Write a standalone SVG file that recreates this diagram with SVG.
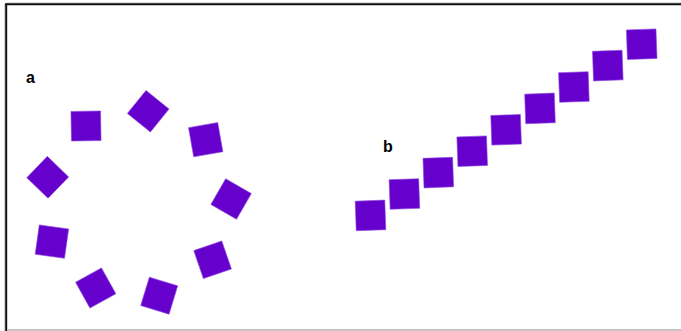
<svg xmlns="http://www.w3.org/2000/svg" width="681" height="331" viewBox="0 0 681 331">
<defs>
<style>
.sq{fill:#6600cc;stroke:#8a4be0;stroke-width:0.6}
.lbl{font-family:"Liberation Sans",Arial,sans-serif;font-weight:bold;font-size:16px;fill:#000}
</style>
<rect id="s" class="sq" x="-14.8" y="-14.8" width="29.6" height="29.6"/>
</defs>
<rect x="0" y="0" width="681" height="331" fill="#fff"/>
<g id="frame">
<line x1="4.5" y1="4" x2="4.5" y2="331" stroke="#cfcfcf" stroke-width="1"/>
<line x1="6" y1="3" x2="681" y2="3" stroke="#bbb" stroke-width="1"/>
<line x1="5" y1="4.2" x2="681" y2="4.2" stroke="#111" stroke-width="2"/>
<line x1="6.2" y1="4" x2="6.2" y2="331" stroke="#111" stroke-width="2"/>
<line x1="7" y1="330" x2="681" y2="330" stroke="#c4c4c4" stroke-width="2"/>
</g>
<text id="label-a" class="lbl" x="26" y="83">a</text>
<text id="label-b" class="lbl" x="383" y="152">b</text>
<g id="ring">
<g id="a1"><use href="#s" transform="translate(86,126) rotate(-1)"/></g>
<g id="a2"><use href="#s" transform="translate(148.2,111.2) rotate(39)"/></g>
<g id="a3"><use href="#s" transform="translate(205.7,139.7) rotate(-10)"/></g>
<g id="a4"><use href="#s" transform="translate(231.1,199) rotate(30)"/></g>
<g id="a5"><use href="#s" transform="translate(212.6,259.8) rotate(-19)"/></g>
<g id="a6"><use href="#s" transform="translate(159.2,295.7) rotate(17)"/></g>
<g id="a7"><use href="#s" transform="translate(95.7,288) rotate(-29)"/></g>
<g id="a8"><use href="#s" transform="translate(51.9,241.6) rotate(8)"/></g>
<g id="a9"><use href="#s" transform="translate(47.7,177.3) rotate(44)"/></g>
</g>
<g id="chain">
<g id="b1"><use href="#s" transform="translate(370.5,215.4) rotate(-2)"/></g>
<g id="b2"><use href="#s" transform="translate(404.4,194) rotate(-2)"/></g>
<g id="b3"><use href="#s" transform="translate(438.3,172.6) rotate(-2)"/></g>
<g id="b4"><use href="#s" transform="translate(472.2,151.2) rotate(-2)"/></g>
<g id="b5"><use href="#s" transform="translate(506.1,129.8) rotate(-2)"/></g>
<g id="b6"><use href="#s" transform="translate(540,108.4) rotate(-2)"/></g>
<g id="b7"><use href="#s" transform="translate(573.9,87) rotate(-2)"/></g>
<g id="b8"><use href="#s" transform="translate(607.8,65.6) rotate(-2)"/></g>
<g id="b9"><use href="#s" transform="translate(641.7,44.2) rotate(-2)"/></g>
</g>
<g id="connectors"/>
</svg>
